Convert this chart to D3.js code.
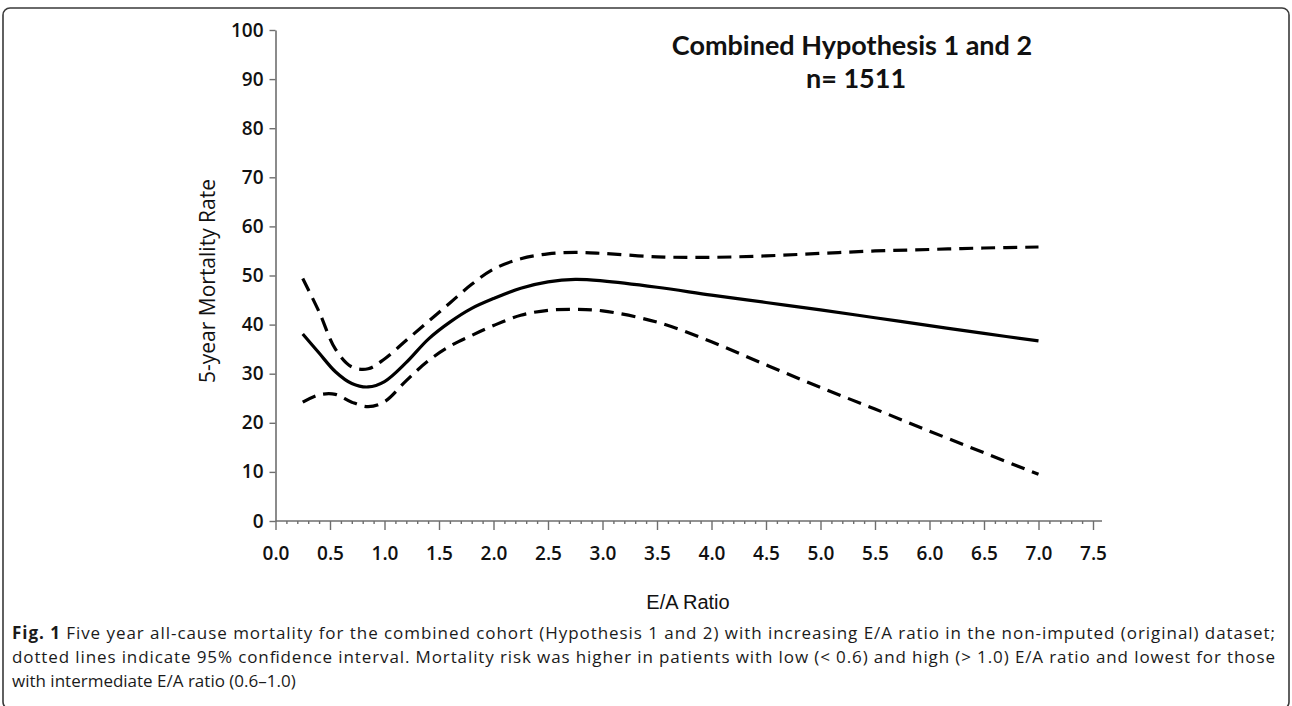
<!DOCTYPE html>
<html>
<head>
<meta charset="utf-8">
<script src="https://cdn.jsdelivr.net/npm/d3@7"></script>
<style>
  html, body { margin: 0; padding: 0; background: #fff; }
  svg { display: block; }
</style>
</head>
<body>
<div id="chart"></div>
<script>
// E/A ratio grid and curve values
const eaRatio   = [0.25, 0.4, 0.55, 0.7, 0.85, 1.0, 1.2, 1.4, 1.6, 1.8, 2.0, 2.25, 2.5, 2.75, 3.0, 3.5, 4.0, 4.5, 5.0, 5.5, 6.0, 6.5, 7.0];
const mortality = [38.1, 34.2, 30.4, 28.0, 27.3, 28.4, 32.3, 37.0, 40.5, 43.3, 45.3, 47.4, 48.7, 49.2, 48.9, 47.6, 46.0, 44.5, 43.0, 41.4, 39.8, 38.2, 36.7];
const upperCI   = [49.4, 42.6, 35.0, 31.4, 31.0, 33.0, 36.8, 40.6, 44.4, 48.2, 51.3, 53.4, 54.4, 54.7, 54.5, 53.8, 53.7, 54.0, 54.5, 55.0, 55.3, 55.6, 55.8];
const lowerCI   = [24.2, 25.7, 25.8, 24.2, 23.3, 24.3, 28.6, 32.6, 35.6, 37.8, 39.8, 41.9, 42.9, 43.1, 42.8, 40.5, 36.5, 31.8, 27.2, 22.8, 18.3, 13.9, 9.5];

const xTicks = [0, 0.5, 1, 1.5, 2, 2.5, 3, 3.5, 4, 4.5, 5, 5.5, 6, 6.5, 7, 7.5];
const yTicks = [0, 10, 20, 30, 40, 50, 60, 70, 80, 90, 100];

const titleLines = ['Combined Hypothesis 1 and 2', 'n= 1511'];
const xTitle = 'E/A Ratio';
const yTitle = '5-year Mortality Rate';
const captionLines = [
  ['Fig. 1', ' Five year all-cause mortality for the combined cohort (Hypothesis 1 and 2) with increasing E/A ratio in the non-imputed (original) dataset;'],
  ['', 'dotted lines indicate 95% confidence interval. Mortality risk was higher in patients with low (< 0.6) and high (> 1.0) E/A ratio and lowest for those'],
  ['', 'with intermediate E/A ratio (0.6\u20131.0)']
];

const width = 1292, height = 706;

let svg = d3.select('#chart')
  .append('svg')
  .attr('width', width)
  .attr('height', height);

// outer frame
svg.append('rect')
  .attr('x', 3)
  .attr('y', 8)
  .attr('width', width - 6)
  .attr('height', height - 5)
  .attr('rx', 7)
  .attr('fill', '#fff')
  .attr('stroke', '#3a3a3a')
  .attr('stroke-width', 1.6);

let x = d3.scaleLinear().domain([0, 7.5]).range([275.5, 1093]);
let y = d3.scaleLinear().domain([0, 100]).range([521, 30]);

let tickFont = '"Open Sans", sans-serif';

// x axis: major ticks
let xAxis = svg.append('g')
  .attr('transform', 'translate(0,' + y(0) + ')')
  .call(d3.axisBottom(x)
    .tickValues(xTicks)
    .tickFormat(d3.format('.1f'))
    .tickSize(9)
    .tickSizeOuter(0)
    .tickPadding(17));

// x axis: minor ticks every 0.1
let minor = d3.range(0, 76).map(function (i) { return i / 10; })
  .filter(function (d) { return Math.round(d * 10) % 5 !== 0; });
let xMinor = svg.append('g')
  .attr('transform', 'translate(0,' + y(0) + ')')
  .call(d3.axisBottom(x)
    .tickValues(minor)
    .tickFormat('')
    .tickSize(3)
    .tickSizeOuter(0));
xMinor.select('.domain').remove();

// axis line runs a little past 7.5
xAxis.select('.domain').remove();
svg.append('line')
  .attr('x1', x(0)).attr('x2', x(7.5) + 9)
  .attr('y1', y(0)).attr('y2', y(0))
  .attr('stroke', '#6e6e6e')
  .attr('stroke-width', 1.6);

let yAxis = svg.append('g')
  .attr('transform', 'translate(' + x(0) + ',0)')
  .call(d3.axisLeft(y)
    .tickValues(yTicks)
    .tickSize(6)
    .tickSizeOuter(0)
    .tickPadding(6));

[xAxis, xMinor, yAxis].forEach(function (g) {
  g.selectAll('.tick line').attr('stroke', '#6e6e6e').attr('stroke-width', 1.4);
  g.select('.domain').attr('stroke', '#6e6e6e').attr('stroke-width', 1.6);
  g.selectAll('text')
    .attr('fill', '#111')
    .style('font-family', tickFont)
    .style('font-weight', 600)
    .style('font-size', '19px');
});

// curves
let line = function (values) {
  return d3.line()
    .x(function (d, i) { return x(eaRatio[i]); })
    .y(function (d) { return y(d); })
    .curve(d3.curveCatmullRom.alpha(0.5))(values);
};

svg.append('path')
  .attr('d', line(upperCI))
  .attr('fill', 'none')
  .attr('stroke', '#000')
  .attr('stroke-width', 3.2)
  .attr('stroke-dasharray', '14,8');

svg.append('path')
  .attr('d', line(lowerCI))
  .attr('fill', 'none')
  .attr('stroke', '#000')
  .attr('stroke-width', 3.2)
  .attr('stroke-dasharray', '14,8');

svg.append('path')
  .attr('d', line(mortality))
  .attr('fill', 'none')
  .attr('stroke', '#000')
  .attr('stroke-width', 3.2);

// chart title
svg.append('text')
  .attr('x', 852)
  .attr('y', 55)
  .attr('text-anchor', 'middle')
  .style('font-family', 'Lato, sans-serif')
  .style('font-weight', 700)
  .style('font-size', '27px')
  .attr('fill', '#111')
  .text(titleLines[0]);

svg.append('text')
  .attr('x', 856)
  .attr('y', 88)
  .attr('text-anchor', 'middle')
  .style('font-family', 'Lato, sans-serif')
  .style('font-weight', 700)
  .style('font-size', '27px')
  .attr('fill', '#111')
  .text(titleLines[1]);

// axis titles
svg.append('text')
  .attr('transform', 'translate(215,281) rotate(-90)')
  .attr('text-anchor', 'middle')
  .style('font-family', '"Open Sans", sans-serif')
  .style('font-size', '21px')
  .attr('fill', '#111')
  .text(yTitle);

svg.append('text')
  .attr('x', 688)
  .attr('y', 609)
  .attr('text-anchor', 'middle')
  .style('font-family', '"Liberation Sans", Arial, sans-serif')
  .style('font-size', '20px')
  .attr('fill', '#111')
  .text(xTitle);

// caption (first two lines justified to the same right edge)
let caption = svg.append('g')
  .style('font-family', '"Open Sans", sans-serif')
  .style('font-size', '17px')
  .attr('fill', '#1a1a1a');

captionLines.forEach(function (parts, i) {
  let t = caption.append('text')
    .attr('x', 12)
    .attr('y', 639 + i * 24)
    .attr('xml:space', 'preserve');
  if (i < 2) {
    t.attr('textLength', 1263).attr('lengthAdjust', 'spacing');
  }
  if (parts[0]) {
    t.append('tspan').style('font-weight', 700).text(parts[0]);
  }
  t.append('tspan').text(parts[1]);
});
</script>
</body>
</html>
